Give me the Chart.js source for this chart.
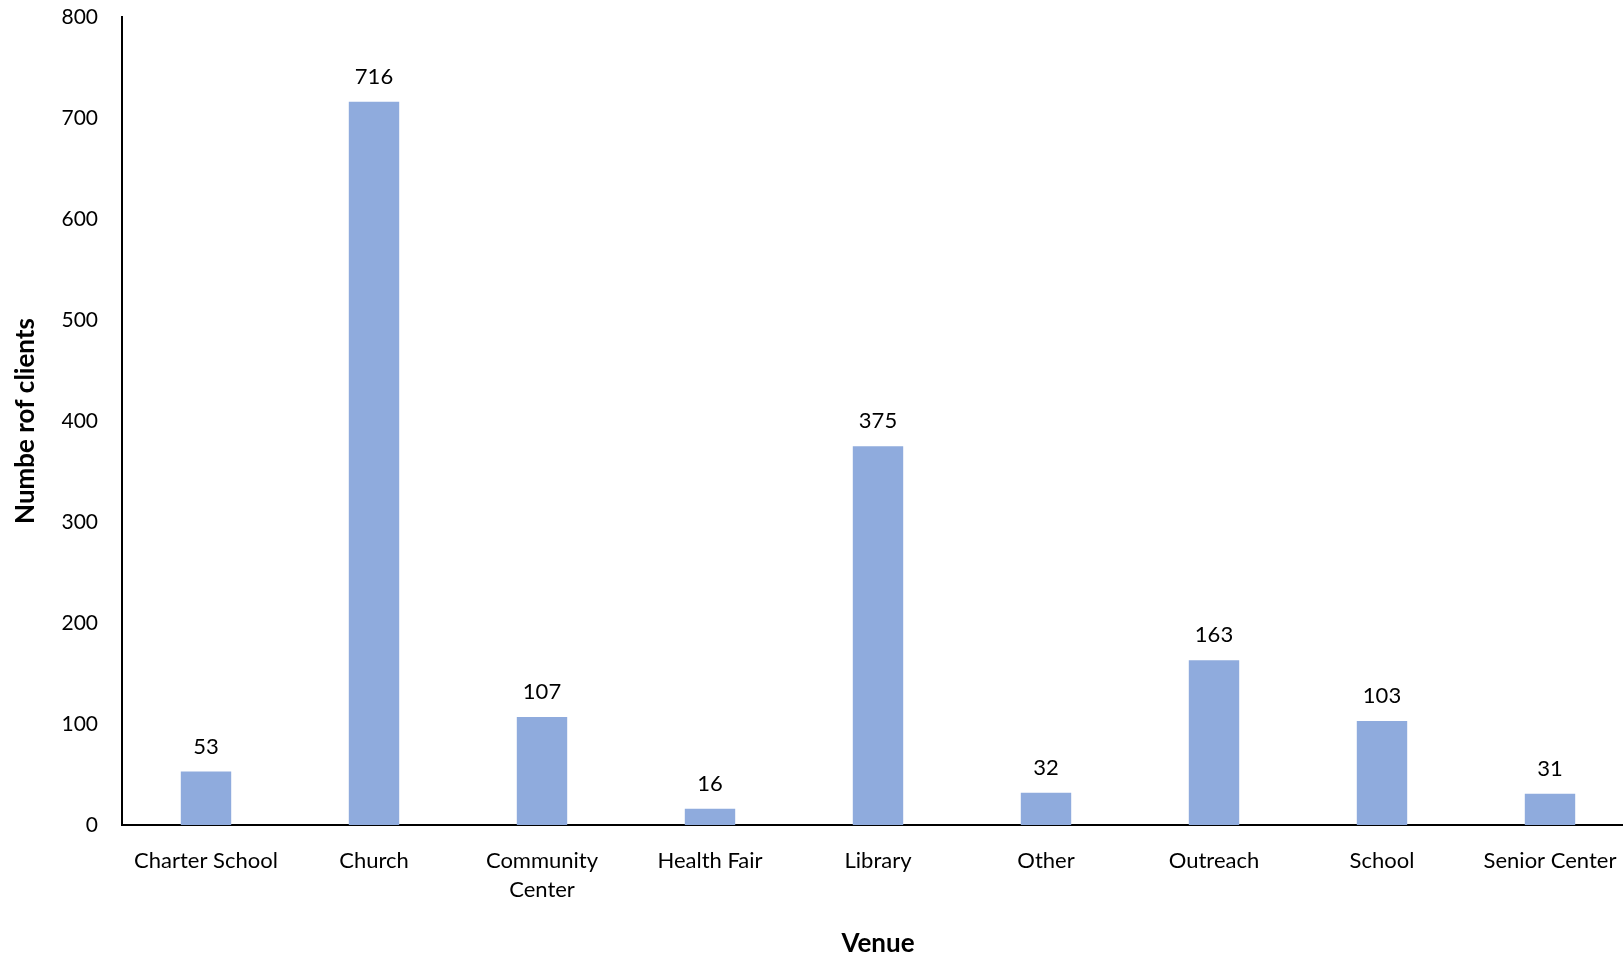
<!DOCTYPE html>
<html>
<head>
<meta charset="utf-8">
<script src="https://cdn.jsdelivr.net/npm/chart.js@4"></script>
<style>
  html, body { margin: 0; padding: 0; background: #fff; overflow: hidden; }
  #wrap { width: 1623px; height: 959px; overflow: hidden; }
</style>
</head>
<body>
<div id="wrap"><canvas id="venueChart" width="1634" height="959"></canvas></div>
<script>
var venues = ['Charter School', 'Church', ['Community', 'Center'], 'Health Fair', 'Library', 'Other', 'Outreach', 'School', 'Senior Center'];
var clients = [53, 716, 107, 16, 375, 32, 163, 103, 31];
var yTicks = [0, 100, 200, 300, 400, 500, 600, 700, 800];

var fontFamily = 'Lato, "Open Sans", sans-serif';
var barColor = '#8FABDD';

// draw the value above every bar
var barValues = {
  id: 'barValues',
  afterDatasetsDraw: function(chart) {
    var ctx = chart.ctx;
    var meta = chart.getDatasetMeta(0);
    ctx.save();
    ctx.font = '22px ' + fontFamily;
    ctx.fillStyle = '#000';
    ctx.textAlign = 'center';
    ctx.textBaseline = 'bottom';
    meta.data.forEach(function(bar, i) {
      ctx.fillText(chart.data.datasets[0].data[i], bar.x, bar.y - 14);
    });
    ctx.restore();
  }
};

var venueChart = new Chart(document.getElementById('venueChart'), {
  type: 'bar',
  data: {
    labels: venues,
    datasets: [{
      data: clients,
      backgroundColor: barColor,
      categoryPercentage: 1,
      barPercentage: 0.3
    }]
  },
  options: {
    responsive: false,
    animation: false,
    layout: { padding: 0 },
    plugins: {
      legend: { display: false },
      tooltip: { enabled: false }
    },
    scales: {
      x: {
        grid: { display: false, drawTicks: false },
        border: { color: '#000', width: 2 },
        ticks: {
          color: '#000',
          font: { family: fontFamily, size: 22, lineHeight: 1.3 },
          padding: 22,
          maxRotation: 0,
          autoSkip: false
        },
        title: {
          display: true,
          text: 'Venue',
          color: '#000',
          font: { family: fontFamily, size: 26, weight: 'bold' },
          padding: { top: 10, bottom: 0 }
        },
        afterFit: function(scale) {
          scale.height = 134;
          scale.paddingLeft = 0;
          scale.paddingRight = 0;
        }
      },
      y: {
        min: 0,
        max: 800,
        afterBuildTicks: function(scale) {
          scale.ticks = yTicks.map(function(v) { return { value: v }; });
        },
        grid: { display: false, drawTicks: false },
        border: { color: '#000', width: 2 },
        ticks: {
          color: '#000',
          font: { family: fontFamily, size: 21 },
          padding: 24
        },
        title: {
          display: true,
          text: 'Numbe rof clients',
          color: '#000',
          font: { family: fontFamily, size: 26, weight: 'bold' },
          padding: { top: 10, bottom: 0 }
        },
        afterFit: function(scale) {
          scale.width = 122;
          scale.paddingTop = 17;
          scale.paddingBottom = 0;
        }
      }
    }
  },
  plugins: [barValues]
});
</script>
</body>
</html>
